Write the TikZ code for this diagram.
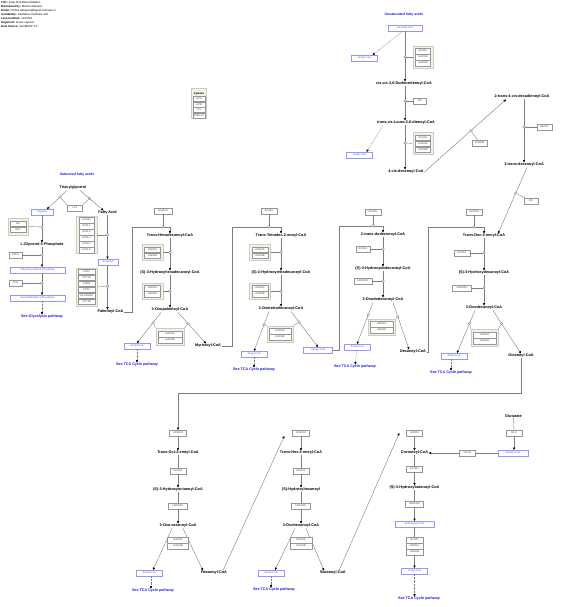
\documentclass[tikz,border=0pt]{standalone}
\usepackage{fontspec}
\setmainfont{Liberation Sans}
\usetikzlibrary{arrows.meta}
\definecolor{linec}{RGB}{125,125,125}
\definecolor{genec}{RGB}{150,150,150}
\definecolor{genetext}{RGB}{70,70,70}
\definecolor{bboxc}{RGB}{150,150,255}
\definecolor{btext}{RGB}{80,80,235}
\definecolor{tcablue}{RGB}{25,25,235}
\definecolor{grpc}{RGB}{205,205,190}
\definecolor{grpfill}{RGB}{242,242,232}
\tikzset{
  met/.style={font=\fontsize{3.8}{4}\selectfont\bfseries, inner sep=0.5pt, text=black},
  gene/.style={draw=genec, fill=white, text=genetext, font=\fontsize{2.6}{3}\selectfont, minimum width=16pt, minimum height=5.6pt, inner sep=0.2pt, line width=0.35pt},
  bbox/.style={draw=bboxc, fill=white, text=btext, font=\fontsize{2.6}{3}\selectfont, minimum width=26pt, minimum height=5.6pt, inner sep=0.2pt, line width=0.4pt},
  grp/.style={draw=grpc, fill=grpfill, line width=0.8pt, inner sep=0pt},
  rxn/.style={draw=linec, line width=0.4pt, -{Triangle[length=2.4pt,width=2.2pt,color=black]}},
  dotrxn/.style={rxn, dash pattern=on 0.7pt off 0.7pt},
  plain/.style={draw=linec, line width=0.4pt},
  link/.style={draw=linec, line width=0.35pt},
  circ/.style={circle, draw=linec, fill=white, line width=0.35pt, inner sep=0pt, minimum size=2.6pt},
  tca/.style={text=tcablue, font=\fontsize{3.7}{4}\selectfont\bfseries, inner sep=0.5pt},
  sect/.style={text=tcablue, font=\fontsize{3.5}{4}\selectfont\bfseries, inner sep=0.5pt},
  hdr/.style={font=\fontsize{2.8}{4}\selectfont, align=left, inner sep=0pt, anchor=north west},
}
\begin{document}
\begin{tikzpicture}[x=1pt,y=-1pt]
\useasboundingbox[fill=white] (0,0) rectangle (563,607);

% ---------- header ----------
\node[hdr] (header) at (1,1) {\textbf{Title:} Fatty Acid Beta Oxidation\\ \textbf{Maintained by:} Michiel Adriaens\\ \textbf{Email:} michiel.adriaens@bigcat.unimaas.nl\\ \textbf{Availability:} Gladstone Institutes and\\ \textbf{Last modified:} 11/15/09\\ \textbf{Organism:} Homo sapiens\\ \textbf{Data Source:} GenMAPP 2.0};

% ---------- lipases ----------
\node[grp, minimum width=15pt, minimum height=30pt] (lipg) at (199,103.5) {};
\node[font=\fontsize{2.8}{3}\selectfont\bfseries, inner sep=0pt] (lipt) at (199,93.5) {Lipases};
\node[gene, minimum width=12pt, minimum height=5.2pt] (lipc) at (199,99) {LIPC};
\node[gene, minimum width=12pt, minimum height=5.2pt] (lipe) at (199,104.5) {LIPE};
\node[gene, minimum width=12pt, minimum height=5.2pt] (lpl0) at (199,110) {LPL};
\node[gene, minimum width=12pt, minimum height=5.2pt] (pnpla) at (199,115.5) {PNPLA2};

% ---------- saturated: glycerol / fatty acid ----------
\node[sect] (satt) at (77,175) {Saturated fatty acids};
\node[met] (tag) at (73,188) {Triacylglycerol};
\node[bbox, minimum width=22pt] (glyc) at (42,212) {Glycerol};
\node[met] (fa) at (107.5,213) {Fatty Acid};
\node[gene, minimum width=15pt] (lpl) at (75,208) {LPL};
\draw[rxn] ([xshift=-6pt]tag.south) -- node[circ, pos=0.35] (ctg1) {} ([xshift=5pt]glyc.north);
\draw[rxn] ([xshift=7pt]tag.south) -- node[circ, pos=0.4] (ctg2) {} ([xshift=-4pt]fa.north);
\draw[link] (lpl.north west) -- (ctg1);
\draw[link] (lpl.north east) -- (ctg2);

\node[grp, minimum width=20pt, minimum height=17pt] (gkg) at (18,226.5) {};
\node[gene] (gk) at (18,223.5) {GK};
\node[gene] (gk2) at (18,229.5) {GK2};
\node[met] (lg3p) at (42,245) {L-Glycerol-3-Phosphate};
\draw[rxn] (glyc) -- (lg3p);
\node[circ] (cgk) at (42,227) {};
\draw[link] (gkg.east) -- (cgk);

\node[gene, minimum width=13pt] (gpd2) at (15.5,255) {GPD2};
\node[bbox, minimum width=55pt] (dhap) at (37.5,270) {Dihydroxyacetone Phosphate};
\draw[rxn] (lg3p.south) -- (lg3p.south |- dhap.north);
\node[circ] (cgpd) at (42,255) {};
\draw[link] (gpd2) -- (cgpd);

\node[gene, minimum width=13pt] (tpi1) at (15.5,283) {TPI1};
\node[bbox, minimum width=55pt] (g3p) at (37.5,298) {Glyceraldehyde-3-Phosphate};
\draw[rxn] (lg3p.south |- dhap.south) -- (lg3p.south |- g3p.north);
\node[circ] (ctpi) at (42,283) {};
\draw[link] (tpi1) -- (ctpi);
\node[tca] (glytx) at (42,317) {See Glycolysis pathway};
\draw[dotrxn] (lg3p.south |- g3p.south) -- (glytx.north);

\node[grp, minimum width=21pt, minimum height=37pt] (acslg) at (86.5,235) {};
\node[gene, minimum width=15pt] (acs1) at (86.5,220) {ACAS2};
\node[gene, minimum width=15pt] (acs2) at (86.5,226) {ACSL1};
\node[gene, minimum width=15pt] (acs3) at (86.5,232) {ACSL3};
\node[gene, minimum width=15pt] (acs4) at (86.5,238) {ACSL4};
\node[gene, minimum width=15pt] (acs5) at (86.5,244) {ACSL5};
\node[gene, minimum width=15pt] (acs6) at (86.5,250) {ACSL6};
\node[bbox, minimum width=20pt] (acyl) at (108,262) {Acyl-CoA};
\draw[rxn] (fa.south) -- (fa.south |- acyl.north);
\node[circ] (cacsl) at (107.5,235) {};
\draw[link] (acslg.east) -- (cacsl);

\node[grp, minimum width=21pt, minimum height=38pt] (cptg) at (86.5,287) {};
\node[gene, minimum width=17pt] (cp1) at (86.5,271.5) {CRAT};
\node[gene, minimum width=17pt] (cp2) at (86.5,277.5) {CPT1A};
\node[gene, minimum width=17pt] (cp3) at (86.5,283.5) {CHKB};
\node[gene, minimum width=17pt] (cp4) at (86.5,289.5) {CPT2};
\node[gene, minimum width=17pt] (cp5) at (86.5,295.5) {SLC25A20};
\node[gene, minimum width=17pt] (cp6) at (86.5,301.5) {CPT1B};
\node[met] (palm) at (110.5,312) {Palmitoyl-CoA};
\draw[rxn] (fa.south |- acyl.south) -- (fa.south |- palm.north);
\node[circ] (ccpt) at (107.5,286) {};
\draw[link] (cptg.east) -- (ccpt);

% ---------- column 1 ----------
\node[gene, minimum width=18pt] (acadvl) at (163,211) {ACADVL};
\node[met] (thd) at (170,236) {Trans-Hexadecanoyl-CoA};
\coordinate (k1) at (132,227);
\coordinate (k2) at (170,227);
\draw[rxn] (palm.east) -| (k1) -- (k2) -- (thd.north);
\node[circ] (cvl) at (163,227) {};
\draw[link] (acadvl) -- (cvl);
\node[met] (shd) at (170,273) {(S)-3-Hydroxyhexadecanoyl-CoA};
\draw[rxn] (thd) -- (shd);
\node[circ] (c1a) at (170,252.5) {};
\node[grp, minimum width=21pt, minimum height=16pt] (g1a) at (152.5,252.5) {};
\node[gene] (g1a1) at (152.5,249.5) {HADHA};
\node[gene] (g1a2) at (152.5,255.5) {HADHB};
\draw[link] (g1a) -- (c1a);
\node[met] (opal) at (170,310) {3-Oxopalmitoyl-CoA};
\draw[rxn] (shd) -- (opal);
\node[circ] (c1b) at (170,291) {};
\node[grp, minimum width=21pt, minimum height=16pt] (g1b) at (152.5,291) {};
\node[gene] (g1b1) at (152.5,288) {HADHA};
\node[gene] (g1b2) at (152.5,294) {HADHB};
\draw[link] (g1b) -- (c1b);
\node[bbox] (ac1) at (137,346) {Acetyl-CoA};
\node[met] (myr) at (208,346) {Myristoyl-CoA};
\draw[rxn] ([xshift=-9pt]opal.south) -- node[circ, pos=0.33] (c1l) {} (ac1.north);
\draw[rxn] ([xshift=8pt]opal.south) -- node[circ, pos=0.36] (c1r) {} ([xshift=-2pt]myr.north);
\node[grp, minimum width=28pt, minimum height=17pt] (g1c) at (170,337) {};
\node[gene, minimum width=24pt] (g1c1) at (170,334) {HADHA};
\node[gene, minimum width=24pt] (g1c2) at (170,340) {HADHB};
\draw[link] (c1l) -- (g1c.north west);
\draw[link] (c1r) -- (g1c.north east);
\node[tca] (tca1) at (137,365) {See TCA Cycle pathway};
\draw[dotrxn] (ac1) -- (tca1);

% ---------- column 2 ----------
\node[gene] (acadl2) at (269,211) {ACADL};
\node[met] (ttd) at (281,236) {Trans-Tetradec-2-enoyl-CoA};
\coordinate (k3) at (232,227);
\coordinate (k4) at (281,227);
\draw[rxn] (myr.east) -| (k3) -- (k4) -- (ttd.north);
\node[circ] (cl2) at (269,227) {};
\draw[link] (acadl2) -- (cl2);
\node[met] (shtd) at (281,273) {(S)-3-Hydroxytetradecanoyl-CoA};
\draw[rxn] (ttd) -- (shtd);
\node[circ] (c2a) at (281,252.5) {};
\node[grp, minimum width=21pt, minimum height=16pt] (g2a) at (260,252.5) {};
\node[gene] (g2a1) at (260,249.5) {HADHA};
\node[gene] (g2a2) at (260,255.5) {HADHB};
\draw[link] (g2a) -- (c2a);
\node[met] (otd) at (281,309) {3-Oxotetradecanoyl-CoA};
\draw[rxn] (shtd) -- (otd);
\node[circ] (c2b) at (281,291) {};
\node[grp, minimum width=21pt, minimum height=16pt] (g2b) at (260,291) {};
\node[gene] (g2b1) at (260,288) {HADHA};
\node[gene] (g2b2) at (260,294) {HADHB};
\draw[link] (g2b) -- (c2b);
\node[bbox] (ac2) at (254,354) {Acetyl-CoA};
\node[bbox, minimum width=29pt] (laur) at (318,350) {Lauroyl-CoA};
\draw[rxn] ([xshift=-12pt]otd.south) -- node[circ, pos=0.33] (c2l) {} (ac2.north);
\draw[rxn] ([xshift=10pt]otd.south) -- node[circ, pos=0.3] (c2r) {} (laur.north);
\node[grp, minimum width=26pt, minimum height=16pt] (g2c) at (280,334) {};
\node[gene, minimum width=22pt] (g2c1) at (280,331) {HADHA};
\node[gene, minimum width=22pt] (g2c2) at (280,337) {HADHB};
\draw[link] (c2l) -- (g2c.north west);
\draw[link] (c2r) -- (g2c.north east);
\node[tca] (tca2) at (254,370) {See TCA Cycle pathway};
\draw[dotrxn] (ac2) -- (tca2);

% ---------- column 3 ----------
\node[gene] (acadl3) at (373,212) {ACADL};
\node[met] (tdd) at (383,235) {2-trans-dodecenoyl-CoA};
\coordinate (k5) at (339,226);
\coordinate (k6) at (383,226);
\draw[rxn] (laur.east) -| (k5) -- (k6) -- (tdd.north);
\node[circ] (cl3) at (373,226) {};
\draw[link] (acadl3) -- (cl3);
\node[gene, minimum width=14pt] (echs3) at (363,249) {ECHS1};
\node[met] (shdd) at (383,269) {(S)-3-Hydroxydodecanoyl-CoA};
\draw[rxn] (tdd) -- (shdd);
\node[circ] (c3a) at (383,249) {};
\draw[link] (echs3) -- (c3a);
\node[gene, minimum width=18pt] (hsc3) at (363,281) {HADHSC};
\node[met] (odd) at (383,300) {3-Oxododecanoyl-CoA};
\draw[rxn] (shdd) -- (odd);
\node[circ] (c3b) at (383,281) {};
\draw[link] (hsc3) -- (c3b);
\node[bbox] (ac3) at (357,347) {Acetyl-CoA};
\node[met] (dec) at (413,352) {Decanoyl-CoA};
\draw[rxn] ([xshift=-10pt]odd.south) -- node[circ, pos=0.3] (c3l) {} (ac3.north);
\draw[rxn] ([xshift=10pt]odd.south) -- node[circ, pos=0.3] (c3r) {} ([xshift=-4pt]dec.north);
\node[grp, minimum width=27pt, minimum height=16pt] (g3c) at (381.5,327) {};
\node[gene, minimum width=23pt] (g3c1) at (381.5,324) {HADHA};
\node[gene, minimum width=23pt] (g3c2) at (381.5,330) {HADHB};
\draw[link] (c3l) -- (g3c.north west);
\draw[link] (c3r) -- (g3c.north east);
\node[tca] (tca3) at (355,367) {See TCA Cycle pathway};
\draw[dotrxn] (ac3) -- (tca3);

% ---------- column 4 ----------
\node[gene] (acadm4) at (474,212) {ACADM};
\node[met] (tde) at (484,236) {Trans-Dec-2-enoyl-CoA};
\coordinate (k7) at (428,227);
\coordinate (k8) at (484,227);
\draw[rxn] (dec.east) -| (k7) -- (k8) -- (tde.north);
\node[circ] (cl4) at (474,227) {};
\draw[link] (acadm4) -- (cl4);
\node[gene] (echs4) at (462,253) {ECHS1};
\node[met] (shde) at (484,273) {(S)-3-Hydroxydecanoyl-CoA};
\draw[rxn] (tde) -- (shde);
\node[circ] (c4a) at (484,253) {};
\draw[link] (echs4) -- (c4a);
\node[gene, minimum width=19pt] (hsc4) at (462,288) {HADHSC};
\node[met] (ode) at (484,308) {3-Oxodecanoyl-CoA};
\draw[rxn] (shde) -- (ode);
\node[circ] (c4b) at (484,288) {};
\draw[link] (hsc4) -- (c4b);
\node[bbox] (ac4) at (454,356) {Acetyl-CoA};
\node[met] (oct) at (521,356) {Octanoyl-CoA};
\draw[rxn] ([xshift=-9pt]ode.south) -- node[circ, pos=0.3] (c4l) {} ([xshift=3pt]ac4.north);
\draw[rxn] ([xshift=9pt]ode.south) -- node[circ, pos=0.3] (c4r) {} (oct.north);
\node[grp, minimum width=27pt, minimum height=17pt] (g4c) at (484.5,338) {};
\node[gene, minimum width=23pt] (g4c1) at (484.5,335) {HADHA};
\node[gene, minimum width=23pt] (g4c2) at (484.5,341) {HADHB};
\draw[link] (c4l) -- (g4c.north west);
\draw[link] (c4r) -- (g4c.north east);
\node[tca] (tca4) at (451,373) {See TCA Cycle pathway};
\draw[dotrxn] ([xshift=-3pt]ac4.south) -- (tca4.north);

% ---------- column 5 ----------
\coordinate (k9) at (521,393);
\coordinate (k10) at (178,393);
\node[gene, minimum width=17pt] (acadm5) at (178,433) {ACADM};
\draw[rxn] (oct.south) -- (k9) -- (k10) -- (acadm5.north);
\node[met] (toe) at (178,453) {Trans-Oct-2-enoyl-CoA};
\draw[rxn] (acadm5) -- (toe);
\node[gene] (echs5) at (178,471) {ECHS1};
\draw[plain] (toe) -- (echs5);
\node[met] (shoc) at (178,490) {(S)-3-Hydroxyoctanoyl-CoA};
\draw[rxn] (echs5) -- (shoc);
\node[gene, minimum width=19pt] (hsc5) at (178,506) {HADHSC};
\draw[plain] (shoc) -- (hsc5);
\node[met] (ooc) at (178,526) {3-Oxo-octanoyl-CoA};
\draw[rxn] (hsc5) -- (ooc);
\node[bbox] (ac5) at (149,573) {Acetyl-CoA};
\node[met] (hex) at (214,573) {Hexanoyl-CoA};
\draw[rxn] ([xshift=-6pt]ooc.south) -- ([xshift=4pt]ac5.north);
\draw[rxn] ([xshift=5pt]ooc.south) -- ([xshift=-11pt]hex.north);
\node[gene, minimum width=21pt] (ha5) at (178,540) {HADHA};
\node[gene, minimum width=21pt] (hb5) at (178,546) {HADHB};
\node[tca] (tca5) at (153,591) {See TCA Cycle pathway};
\draw[dotrxn] ([xshift=2pt]ac5.south) -- ([xshift=2pt]ac5.south |- tca5.north);

% ---------- column 6 ----------
\node[gene, minimum width=17pt] (acadm6) at (301,433) {ACADM};
\draw[rxn] ([xshift=9pt]hex.north) -- ([xshift=-8pt]acadm6.south west);
\node[met] (the) at (301,453) {Trans-Hex-2-enoyl-CoA};
\draw[rxn] (acadm6) -- (the);
\node[gene] (echs6) at (301,471) {ECHS1};
\draw[plain] (the) -- (echs6);
\node[met] (shhx) at (301,490) {(S)-Hydroxyhexanoyl};
\draw[rxn] (echs6) -- (shhx);
\node[gene, minimum width=19pt] (hsc6) at (301,506) {HADHSC};
\draw[plain] (shhx) -- (hsc6);
\node[met] (ooh) at (301,526) {3-Oxohexanoyl-CoA};
\draw[rxn] (hsc6) -- (ooh);
\node[bbox] (ac6) at (271,573) {Acetyl-CoA};
\node[met] (but) at (333,573) {Butanoyl-CoA};
\draw[rxn] ([xshift=-6pt]ooh.south) -- ([xshift=4pt]ac6.north);
\draw[rxn] ([xshift=5pt]ooh.south) -- ([xshift=-9pt]but.north);
\node[gene, minimum width=22pt] (ha6) at (301,540) {HADHA};
\node[gene, minimum width=22pt] (hb6) at (301,546) {HADHB};
\node[tca] (tca6) at (274,590) {See TCA Cycle pathway};
\draw[dotrxn] (ac6.south) -- (ac6.south |- tca6.north);

% ---------- column 7 ----------
\node[gene] (acads) at (414.5,433) {ACADS};
\draw[rxn] ([xshift=6pt]but.north) -- ([xshift=-7pt]acads.west);
\node[met] (crot) at (414.5,453) {Crotonoyl-CoA};
\draw[rxn] (acads) -- (crot);
\node[gene] (echs7) at (414.5,469) {ECHS1};
\draw[plain] (crot) -- (echs7);
\node[met] (shb) at (414.5,488) {(S)-3-Hydroxybutanoyl-CoA};
\draw[rxn] (echs7) -- (shb);
\node[gene, minimum width=18pt] (hsc7) at (414.5,504) {HADHSC};
\draw[plain] (shb) -- (hsc7);
\node[bbox, minimum width=39pt] (acac) at (414.5,524) {Acetoacetyl-CoA};
\draw[rxn] (hsc7) -- (acac);
\node[gene, minimum width=17pt] (acat7) at (414.5,540) {ACAT1};
\node[gene, minimum width=17pt] (ha7) at (414.5,546) {HADHA};
\node[gene, minimum width=17pt] (hb7) at (414.5,552) {HADHB};
\draw[plain] (acac) -- (acat7);
\node[bbox] (ac7) at (414.5,571) {Acetyl-CoA};
\draw[rxn] (hb7) -- (ac7);
\node[tca] (tca7) at (419,599) {See TCA Cycle pathway};
\draw[dotrxn] (ac7.south) -- (ac7.south |- tca7.north);

\node[met] (glut) at (513.5,416) {Glutarate};
\node[gene] (gls) at (514,433) {GLS};
\node[bbox, minimum width=30pt] (glcoa) at (513,453) {Glutaryl-CoA};
\node[gene] (gcdh) at (467.5,453) {GCDH};
\draw[plain] (glut) -- (gls);
\draw[rxn] (gls) -- (gls |- glcoa.north);
\draw[plain] (glcoa) -- (gcdh);
\draw[rxn] (gcdh) -- (crot);

% ---------- unsaturated ----------
\node[sect] (unst) at (404,15) {Unsaturated fatty acids};
\node[bbox, minimum width=34pt] (lino) at (405,28) {Linoleoyl-CoA};
\node[bbox] (au1) at (364.5,58) {Acetyl-CoA};
\draw[dotrxn] ([xshift=-2pt]lino.south) -- ([xshift=8pt]au1.north);
\node[met] (ccd) at (404,84) {cis,cis-3,6-Dodecadienoyl-CoA};
\draw[rxn] (lino.south) -- (lino.south |- ccd.north);
\node[circ] (cu1) at (405,57) {};
\node[grp, minimum width=20pt, minimum height=22pt] (gu1) at (423,57) {};
\node[gene, minimum width=15pt] (gu11) at (423,51) {ACADL};
\node[gene, minimum width=15pt] (gu12) at (423,57) {HADHA};
\node[gene, minimum width=15pt] (gu13) at (423,63) {HADHB};
\draw[link] (gu1.west) -- (cu1);
\node[met] (tcl) at (406,123) {trans,cis-Lauro-2,6-dienoyl-CoA};
\draw[rxn] (lino.south |- ccd.south) -- (lino.south |- tcl.north);
\node[gene, minimum width=13pt] (dci1) at (420,101) {DCI};
\node[circ] (cu2) at (405,101) {};
\draw[link] (dci1) -- (cu2);
\node[bbox] (au2) at (359.5,155) {Acetyl-CoA};
\draw[dotrxn] ([xshift=-23pt]tcl.south) -- ([xshift=7pt]au2.north);
\node[met] (cde) at (406,172) {4-cis-decenoyl-CoA};
\draw[rxn] (lino.south |- tcl.south) -- (lino.south |- cde.north);
\node[circ] (cu3) at (405,143) {};
\node[grp, minimum width=20pt, minimum height=22pt] (gu2) at (423,143.5) {};
\node[gene, minimum width=15pt] (gu21) at (423,137.5) {ACADL};
\node[gene, minimum width=15pt] (gu22) at (423,143.5) {HADHA};
\node[gene, minimum width=15pt] (gu23) at (423,149.5) {HADHB};
\draw[link] (gu2.west) -- (cu3);
\node[met] (ddc) at (522,97) {2-trans-4-cis-decadienoyl-CoA};
\draw[rxn] (cde.east) -- node[circ, pos=0.57] (cu4) {} ([xshift=-16pt]ddc.south);
\node[gene, minimum width=15pt] (acadmu) at (479.5,143) {ACADM};
\draw[link] (acadmu) -- (cu4);
\node[met] (ttdc) at (524,165) {3-trans-decenoyl-CoA};
\draw[rxn] ([xshift=2pt]ddc.south) -- ([xshift=2pt]ddc.south |- ttdc.north);
\node[circ] (cu5) at (524,127) {};
\node[gene, minimum width=15pt] (decr1) at (544.5,127) {DECR1};
\draw[link] (decr1) -- (cu5);
\draw[rxn] ([xshift=3pt]ttdc.south) -- node[circ, pos=0.39] (cu6) {} ([xshift=14pt]tde.north);
\node[gene, minimum width=14pt] (dci2) at (531,201) {DCI};
\draw[link] (dci2) -- (cu6);
\end{tikzpicture}
\end{document}
